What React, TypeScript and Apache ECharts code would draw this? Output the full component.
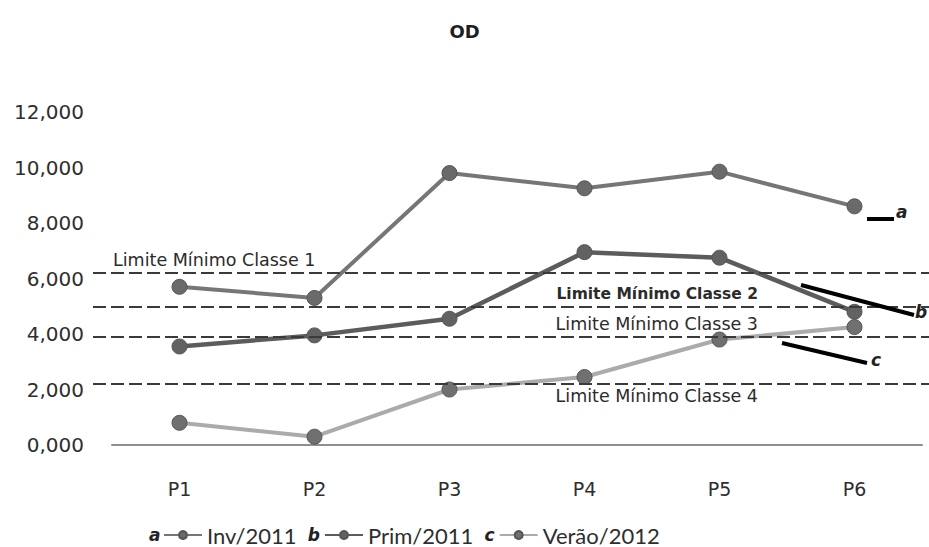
import React, { useEffect, useRef } from "react";
import * as echarts from "echarts";

// Sampling points along the watercourse
const categories = ["P1", "P2", "P3", "P4", "P5", "P6"];

// Dissolved oxygen (mg/L) per campaign
const inv2011 = [5.7, 5.3, 9.8, 9.25, 9.85, 8.6];
const prim2011 = [3.55, 3.95, 4.55, 6.95, 6.75, 4.8];
const verao2012 = [0.8, 0.3, 2.0, 2.45, 3.8, 4.25];

// Minimum limits by water class
const classLimits = [6.2, 5.0, 3.9, 2.2];
const classLabels = [
  "Limite Mínimo Classe 1",
  "Limite Mínimo Classe 2",
  "Limite Mínimo Classe 3",
  "Limite Mínimo Classe 4",
];

const seriesNames = ["Inv/2011", "Prim/2011", "Verão/2012"];
const seriesLetters = ["a", "b", "c"];

const yMin = 0;
const yMax = 12;
const yInterval = 2;

const FONT = "DejaVu Sans";

export default function App() {
  const ref = useRef<HTMLDivElement>(null);

  useEffect(() => {
    document.body.style.margin = "0";
    if (!ref.current) return;
    const chart = echarts.init(ref.current, null, { renderer: "svg" });

    const labelStyles = [
      { position: "insideStartTop", distance: [20, 4], fontWeight: "normal", size: 17.5 },
      { position: "insideEndTop", distance: [171, 4], fontWeight: "bold", size: 15.5 },
      { position: "insideEndTop", distance: [171, 4], fontWeight: "normal", size: 17.5 },
      { position: "insideEndBottom", distance: [171, 3], fontWeight: "normal", size: 17.5 },
    ];

    const limitLines = classLimits.map((v, i) => ({
      yAxis: v,
      label: {
        show: true,
        formatter: classLabels[i],
        position: labelStyles[i].position,
        distance: labelStyles[i].distance,
        fontFamily: FONT,
        fontSize: labelStyles[i].size,
        fontWeight: labelStyles[i].fontWeight,
        color: "#2b2b2b",
      },
    }));

    const lineStyles = [
      { line: "#767676", marker: "#6a6a6a", width: 4 },
      { line: "#5c5c5c", marker: "#626262", width: 4.5 },
      { line: "#ababab", marker: "#707070", width: 4 },
    ];
    const values = [inv2011, prim2011, verao2012];

    const dataSeries = seriesNames.map((name, i) => ({
      name,
      type: "line",
      data: values[i],
      xAxisIndex: 0,
      yAxisIndex: 0,
      symbol: "circle",
      symbolSize: 15,
      z: 3,
      lineStyle: { color: lineStyles[i].line, width: lineStyles[i].width },
      itemStyle: {
        color: lineStyles[i].marker,
        borderColor: "#555",
        borderWidth: 1,
      },
    }));

    const letterStyle = {
      fontFamily: FONT,
      fontSize: 17,
      fontStyle: "italic",
      fontWeight: "bold",
      fill: "#222",
    };

    const option = {
      animation: false,
      backgroundColor: "#ffffff",
      title: {
        text: "OD",
        left: "center",
        top: 17,
        textStyle: {
          fontFamily: FONT,
          fontSize: 18,
          fontWeight: "bold",
          color: "#1e1e1e",
        },
      },
      grid: [
        { left: 112, right: 7, top: 112, bottom: 102 },
        { left: 93, right: 0, top: 112, bottom: 102 },
      ],
      xAxis: [
        {
          type: "category",
          data: categories,
          gridIndex: 0,
          boundaryGap: true,
          axisLine: { lineStyle: { color: "#8f8f8f", width: 2 } },
          axisTick: { show: false },
          axisLabel: {
            margin: 34,
            fontFamily: FONT,
            fontSize: 19,
            color: "#2e2e2e",
          },
        },
        { type: "value", gridIndex: 1, min: 0, max: 1, show: false },
      ],
      yAxis: [
        {
          type: "value",
          gridIndex: 0,
          min: yMin,
          max: yMax,
          interval: yInterval,
          axisLine: { show: false },
          axisTick: { show: false },
          splitLine: { show: false },
          axisLabel: {
            margin: 28,
            fontFamily: FONT,
            fontSize: 20,
            color: "#2e2e2e",
            formatter: (v: number) => v.toFixed(3).replace(".", ","),
          },
        },
        {
          type: "value",
          gridIndex: 1,
          min: yMin,
          max: yMax,
          show: false,
        },
      ],
      legend: {
        data: seriesNames,
        left: 163,
        top: 523,
        itemWidth: 38,
        itemHeight: 10,
        itemGap: 4,
        padding: 0,
        formatter: (name: string) => {
          const idx = seriesNames.indexOf(name);
          const next = seriesLetters[idx + 1];
          return next ? `${name}  {l|${next}}` : name;
        },
        textStyle: {
          fontFamily: "Lato",
          fontSize: 22,
          lineHeight: 24,
          color: "#2e2e2e",
          rich: {
            l: {
              fontFamily: FONT,
              fontSize: 17,
              lineHeight: 24,
              fontStyle: "italic",
              fontWeight: "bold",
              color: "#222",
            },
          },
        },
      },
      graphic: [
        {
          type: "text",
          x: 149,
          y: 535,
          style: { text: seriesLetters[0], verticalAlign: "middle", ...letterStyle },
        },
        // Callouts pointing at each curve's end
        {
          type: "line",
          shape: { x1: 867, y1: 219, x2: 894, y2: 219 },
          style: { stroke: "#000", lineWidth: 4 },
          z: 10,
        },
        {
          type: "text",
          x: 896,
          y: 203,
          style: { text: "a", ...letterStyle },
          z: 10,
        },
        {
          type: "line",
          shape: { x1: 801, y1: 285, x2: 914, y2: 315 },
          style: { stroke: "#000", lineWidth: 4 },
          z: 10,
        },
        {
          type: "text",
          x: 915,
          y: 303,
          style: { text: "b", ...letterStyle },
          z: 10,
        },
        {
          type: "line",
          shape: { x1: 782, y1: 343, x2: 867, y2: 363 },
          style: { stroke: "#000", lineWidth: 4 },
          z: 10,
        },
        {
          type: "text",
          x: 871,
          y: 351,
          style: { text: "c", ...letterStyle },
          z: 10,
        },
      ],
      series: [
        ...dataSeries,
        {
          name: "limites",
          type: "line",
          xAxisIndex: 1,
          yAxisIndex: 1,
          data: [],
          z: 5,
          markLine: {
            silent: true,
            symbol: "none",
            z: 5,
            lineStyle: { color: "#3a3a3a", width: 2, type: [13, 5] },
            data: limitLines,
          },
        },
      ],
    };

    chart.setOption(option as any);
    return () => chart.dispose();
  }, []);

  return <div ref={ref} style={{ width: 929, height: 547 }} />;
}
